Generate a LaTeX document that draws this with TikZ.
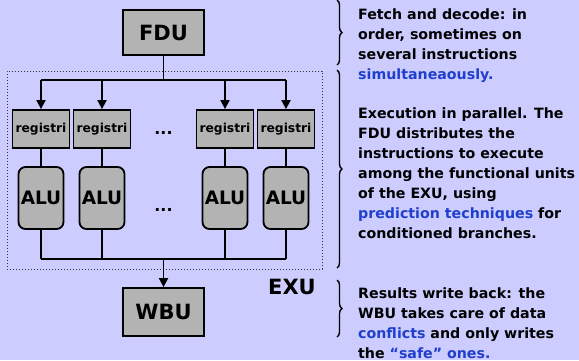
\documentclass[tikz,border=0pt]{standalone}
\usepackage{fontspec}
\setmainfont{DejaVu Sans}
\usetikzlibrary{arrows.meta,decorations.pathreplacing}

\definecolor{bgcol}{HTML}{CCCCFF}
\definecolor{boxgray}{HTML}{B3B3B3}
\definecolor{hilite}{HTML}{1F3FCC}

\tikzset{
  unitbox/.style={draw=black, fill=boxgray, line width=1.8pt, inner sep=0pt,
    font=\bfseries\fontsize{21}{21}\selectfont},
  regbox/.style={draw=black, fill=boxgray, line width=1.8pt, inner sep=0pt,
    minimum width=57pt, minimum height=38pt,
    font=\bfseries\fontsize{12.3}{12.3}\selectfont},
  alubox/.style={draw=black, fill=boxgray, line width=1.8pt, inner sep=0pt,
    rounded corners=7pt, minimum width=45pt, minimum height=62pt,
    font=\bfseries\fontsize{18.5}{18.5}\selectfont},
  wire/.style={line width=1.8pt},
  feed/.style={wire, -{Triangle[length=9pt,width=9pt]}},
  ellip/.style={font=\bfseries\fontsize{16}{16}\selectfont, inner sep=0pt},
  % anchored at the baseline of the last line
  note/.style={anchor=base west, align=left, inner sep=0pt,
    font=\bfseries\fontsize{14.2}{20}\selectfont},
  bracket/.style={decorate, decoration={brace, amplitude=5pt}, line width=1.4pt}
}
\newcommand{\hlt}[1]{\textcolor{hilite}{#1}}

\begin{document}
\begin{tikzpicture}[x=1pt, y=-1pt]
  % canvas
  \fill[bgcol] (0,0) rectangle (579,360);
  \useasboundingbox (0,0) rectangle (579,360);

  % execution unit frame
  \node[draw=black!80, dotted, line width=1pt, inner sep=0pt,
        minimum width=315pt, minimum height=198pt] (exuframe) at (164.5,170) {};

  % fetch/decode and write-back units
  \node[unitbox, minimum width=81pt, minimum height=45pt] (fdu) at (163.5,32.5) {FDU};
  \node[unitbox, minimum width=81pt, minimum height=48pt] (wbu) at (163.5,312) {WBU};

  % register files
  \node[regbox] (r1) at (41,129)  {registri};
  \node[regbox] (r2) at (102,129) {registri};
  \node[regbox] (r3) at (225,129) {registri};
  \node[regbox] (r4) at (286,129) {registri};
  \node[ellip] (rdots) at (163.5,133) {...};

  % ALUs
  \node[alubox] (a1) at (41,198)  {ALU};
  \node[alubox] (a2) at (102,198) {ALU};
  \node[alubox] (a3) at (225,198) {ALU};
  \node[alubox] (a4) at (286,198) {ALU};
  \node[ellip] (adots) at (163.5,210) {...};

  % dispatch from the FDU
  \coordinate (split) at (163.5,80);
  \draw[wire] (fdu.south) -- (split);
  \draw[wire] (r1.north |- split) -- (r4.north |- split);
  \foreach \r in {r1,r2,r3,r4}
    \draw[feed] (split -| \r.north) -- (\r.north);

  % registers to ALUs
  \foreach \i in {1,2,3,4}
    \draw[wire] (r\i.south) -- (a\i.north);

  % collection towards the WBU
  \coordinate (merge) at (163.5,259);
  \foreach \a in {a1,a2,a3,a4}
    \draw[wire] (\a.south) -- (\a.south |- merge);
  \draw[wire] (a1.south |- merge) -- (a4.south |- merge);
  \draw[feed] (merge) -- (wbu.north);

  \node[font=\bfseries\fontsize{21}{21}\selectfont, inner sep=0pt] (exulabel) at (292,287) {EXU};

  % braces
  \draw[bracket] (337,0) -- (337,65);
  \draw[bracket] (337,70) -- (337,268);
  \draw[bracket] (337,280) -- (337,337);

  % descriptions
  \node[note] (t1) at (358,79.5) {Fetch and decode: in\\order, sometimes on\\several instructions\\\hlt{simultaneaously.}};
  \node[note] (t2) at (358,238.5) {Execution in parallel. The\\FDU distributes the\\instructions to execute\\among the functional units\\of the EXU, using\\\hlt{prediction techniques} for\\conditioned branches.};
  \node[note] (t3) at (358,358) {Results write back: the\\WBU takes care of data\\\hlt{conflicts} and only writes\\the \hlt{“safe” ones.}};
\end{tikzpicture}
\end{document}
